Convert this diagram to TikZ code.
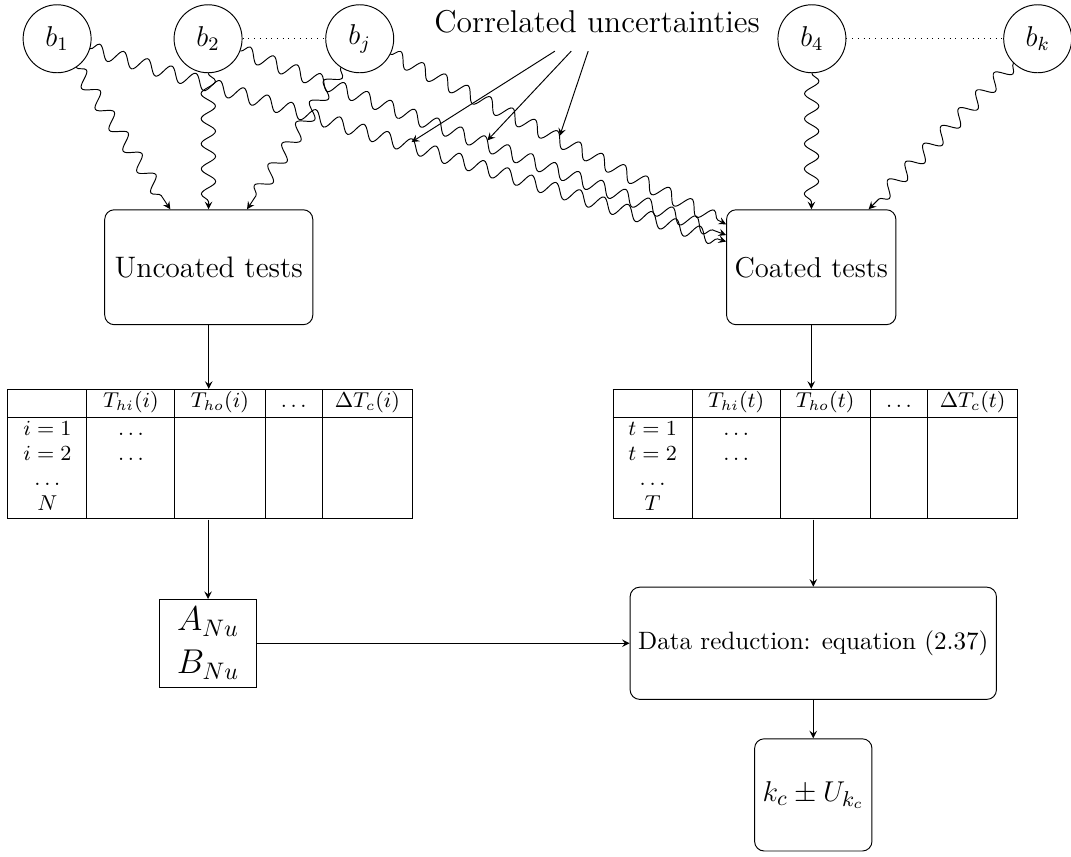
\documentclass[tikz,border=0pt]{standalone}
\usepackage{array}
\usetikzlibrary{calc, positioning, arrows, decorations.pathmorphing}
\tikzstyle{bvtx}=[draw, shape=circle, minimum size=1cm, inner sep=1pt, font=\large]
\tikzstyle{tst}=[draw, rounded corners, inner xsep=1pt, minimum height=1.69cm, font=\fontsize{12.4}{15}\selectfont]
\tikzstyle{wavy}=[->, decorate, decoration={snake, amplitude=3pt, segment length=10.5pt, post length=1mm}]
\tikzset{>=stealth}
\newcommand{\testtab}[2]{\setlength{\tabcolsep}{0pt}\renewcommand{\arraystretch}{0.95}%
\begin{tabular}{|w{c}{1.15cm}|w{c}{1.28cm}|w{c}{1.31cm}|w{c}{.83cm}|w{c}{1.31cm}|}
\hline
\rule[-4pt]{0pt}{8.4pt} & $T_{hi}(#1)$ & $T_{ho}(#1)$ & $\dots$ & $\Delta T_c(#1)$ \\ \hline
$#1=1$ & $\dots$ & & & \\
$#1=2$ & $\dots$ & & & \\
$\dots$ & & & & \\
$#2$ & & & & \\ \hline
\end{tabular}}

\begin{document}
\begin{tikzpicture}
\useasboundingbox (0,0) rectangle (15.75,-12.59);
\node[bvtx] (b1) at (0.84,-0.57) {$b_1$};
\node[bvtx] (b2) at (3.06,-0.57) {$b_2$};
\node[bvtx] (bj) at (5.29,-0.57) {$b_j$};
\node[bvtx] (b4) at (11.94,-0.57) {$b_4$};
\node[bvtx] (bk) at (15.26,-0.57) {$b_k$};
\node[font=\fontsize{13.2}{16}\selectfont] (corr) at (8.78,-0.32) {Correlated uncertainties};
\draw[dotted] (b2) -- (bj);
\draw[dotted] (b4) -- (bk);

\node[tst, minimum width=3.06cm] (unc) at (3.07,-3.93) {Uncoated tests};
\node[tst, minimum width=2.49cm, font=\large] (coat) at (11.93,-3.93) {Coated tests};

\foreach \b in {b1,b2,bj}{
\draw[wavy] (\b) -- (unc);
\draw[wavy] (\b) -- (coat);
}
\draw[wavy] (b4) -- (coat);
\draw[wavy] (bk) -- (coat);

%% arrows from the label onto the three correlated lines
\coordinate (c1) at ($(b1)!.47!(coat)+(0,.06)$);
\coordinate (c2) at ($(b2)!.463!(coat)+(0,.06)$);
\coordinate (c3) at ($(bj)!.443!(coat)+(0,.06)$);
\draw[->] ([xshift=-6.2mm,yshift=-1.4mm]corr.south) -- (c1);
\draw[->] ([xshift=-3.8mm,yshift=-1.4mm]corr.south) -- (c2);
\draw[->] ([xshift=-1.3mm,yshift=-1.4mm]corr.south) -- (c3);

\node[inner sep=0pt, font=\small] (ltab) at (3.09,-6.68) {\testtab{i}{N}};
\node[inner sep=0pt, font=\small] (rtab) at (11.99,-6.68) {\testtab{t}{T}};
\draw[->] (unc) -- (unc |- ltab.north);
\draw[->] (coat) -- (coat |- rtab.north);

\node[draw, font=\Large, align=center, minimum width=1.43cm, minimum height=1.16cm] (anu) at (3.06,-9.46) {$A_{Nu}$\\$B_{Nu}$};
\node[draw, rounded corners, font=\fontsize{10.5}{12}\selectfont, minimum width=5.34cm, minimum height=1.65cm] (dred) at (11.96,-9.46) {Data reduction: equation (2.37)};
\node[draw, rounded corners, font=\fontsize{13}{15}\selectfont, minimum width=1.69cm, minimum height=1.65cm] (kc) at (11.96,-11.69) {$k_c \pm U_{k_c}$};

\draw[->] (anu |- ltab.south) -- (anu);
\draw[->] (anu) -- (dred);
\draw[->] (dred |- rtab.south) -- (dred);
\draw[->] (dred) -- (kc);
\end{tikzpicture}
\end{document}
